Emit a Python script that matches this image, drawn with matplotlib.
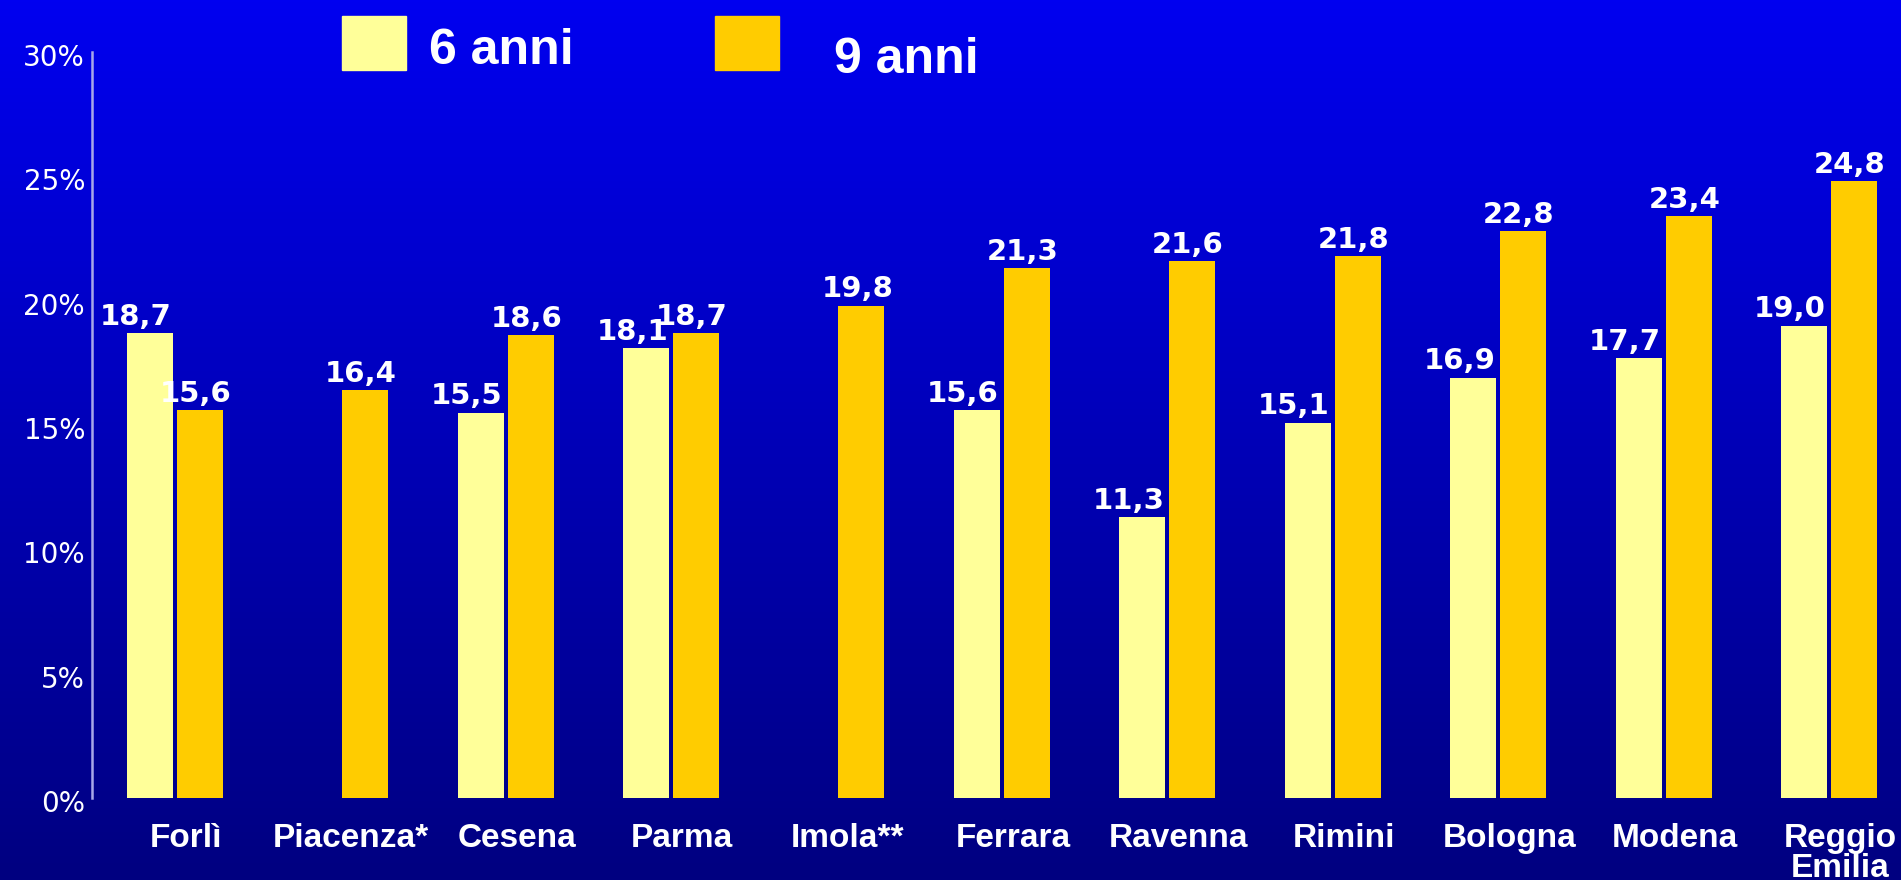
import numpy as np
import matplotlib
matplotlib.use("Agg")
import matplotlib.pyplot as plt
from matplotlib.patches import Rectangle
from matplotlib.transforms import ScaledTranslation

# data
cities = ["Forlì", "Piacenza*", "Cesena", "Parma", "Imola**", "Ferrara",
          "Ravenna", "Rimini", "Bologna", "Modena", "Reggio\nEmilia"]
anni6 = [18.7, np.nan, 15.5, 18.1, np.nan, 15.6, 11.3, 15.1, 16.9, 17.7, 19.0]
anni9 = [15.6, 16.4, 18.6, 18.7, 19.8, 21.3, 21.6, 21.8, 22.8, 23.4, 24.8]
series_names = ["6 anni", "9 anni"]
yticks = [0, 5, 10, 15, 20, 25, 30]

col6 = "#FFFF99"
col9 = "#FFCC00"
axis_col = "#A8A8E8"

W, H = 1901, 880
fig = plt.figure(figsize=(W / 100, H / 100), dpi=100)

# background gradient, bright blue on top to navy at the bottom
bg = fig.add_axes([0, 0, 1, 1], zorder=-10)
grad = np.linspace(0, 1, 256)[:, None]
top = np.array([0, 0, 240]) / 255
bot = np.array([0, 0, 128]) / 255
img = top[None, None, :] * (1 - grad[..., None]) + bot[None, None, :] * grad[..., None]
bg.imshow(np.repeat(img, 2, axis=1), aspect="auto", extent=[0, 1, 0, 1])
bg.axis("off")

ax = fig.add_axes([92 / W, 0.0932, 1 - 92 / W, 0.9409 - 0.0932])
ax.patch.set_alpha(0)

x = np.arange(len(cities))
bw = 0.278
off = 0.151
ax.bar(x - off, anni6, bw, color=col6, zorder=3)
ax.bar(x + off, anni9, bw, color=col9, zorder=3)

def fmt(v):
    return f"{v:.1f}".replace(".", ",")

for xi, v in zip(x, anni6):
    if not np.isnan(v):
        ax.annotate(fmt(v), (xi - off, v), xytext=(-10, 6), textcoords="offset points",
                    ha="center", va="baseline", color="white", fontsize=21,
                    fontweight="bold", family="DejaVu Sans")
for xi, v in zip(x, anni9):
    ax.annotate(fmt(v), (xi + off, v), xytext=(-3, 6), textcoords="offset points",
                ha="center", va="baseline", color="white", fontsize=21,
                fontweight="bold", family="DejaVu Sans")

ax.set_xlim(-0.5, (W - 174) / 165.5)
ax.set_ylim(0, 30)
ax.set_yticks(yticks)
ax.set_yticklabels([f"{t}%" for t in yticks], color="white", fontsize=20,
                   family="DejaVu Sans")
ax.set_xticks(x)
ax.set_xticklabels(cities, color="white", fontsize=24, fontweight="bold",
                   family="Liberation Sans", linespacing=0.95)
ax.tick_params(axis="y", length=0, pad=5)
ax.tick_params(axis="x", length=0, pad=18)
shift = ScaledTranslation(11 / 100, 0, fig.dpi_scale_trans)
for lab in ax.get_xticklabels():
    lab.set_transform(lab.get_transform() + shift)
down = ScaledTranslation(0, -3 / 100, fig.dpi_scale_trans)
for lab in ax.get_yticklabels():
    lab.set_transform(lab.get_transform() + down)

for s in ["top", "right", "bottom"]:
    ax.spines[s].set_visible(False)
ax.spines["left"].set_color(axis_col)
ax.spines["left"].set_linewidth(1.8)

# legend drawn by hand at the top
fig.add_artist(Rectangle((342 / W, 1 - 70 / H), 64 / W, 54 / H,
                         transform=fig.transFigure, color=col6))
fig.add_artist(Rectangle((715 / W, 1 - 70 / H), 64 / W, 54 / H,
                         transform=fig.transFigure, color=col9))
fig.text(429 / W, 1 - 64 / H, series_names[0], color="white", fontsize=36,
         fontweight="bold", family="Liberation Sans", va="baseline")
fig.text(834 / W, 1 - 73 / H, series_names[1], color="white", fontsize=36,
         fontweight="bold", family="Liberation Sans", va="baseline")

fig.savefig("out.png", dpi=100)
